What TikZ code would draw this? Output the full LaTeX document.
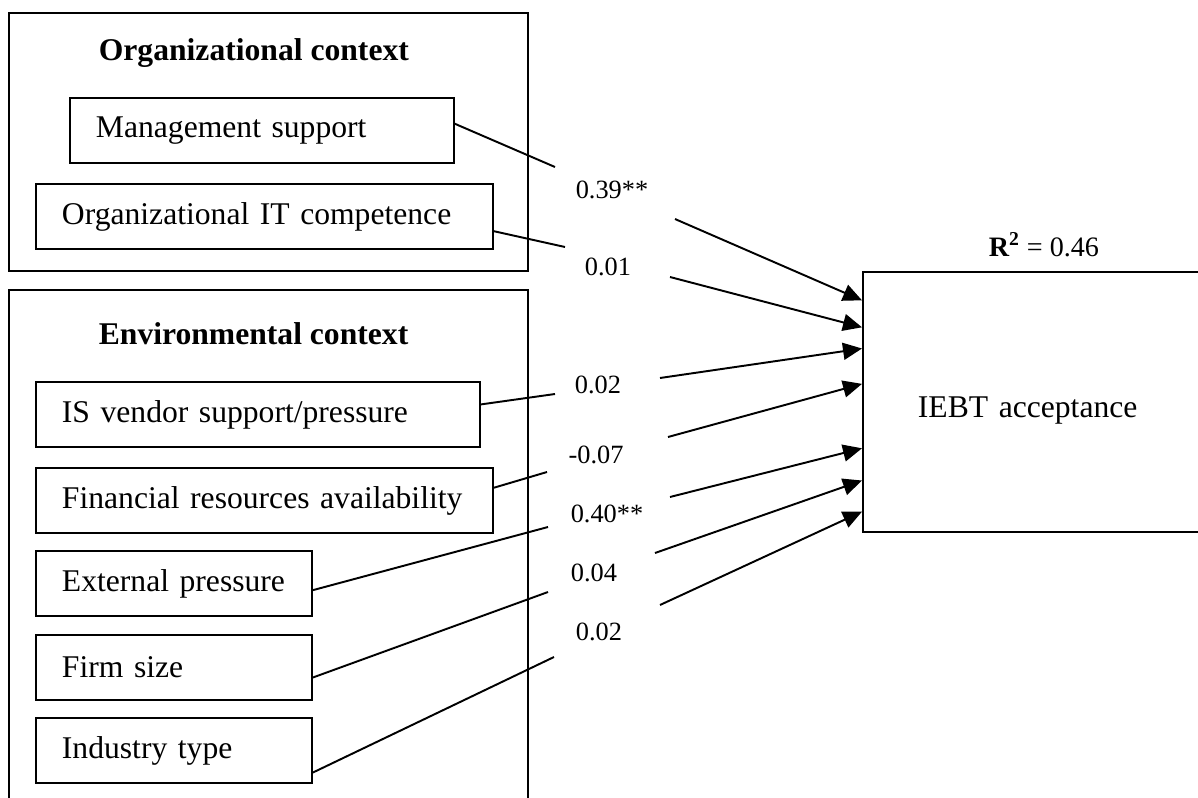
\documentclass[tikz,border=0pt]{standalone}
\usepackage{fontspec}
\setmainfont{Liberation Serif}
\usetikzlibrary{arrows.meta,calc}

\begin{document}
\begin{tikzpicture}[x=0.02cm,y=-0.02cm,line width=1.1pt,
  factor/.style={draw, anchor=north west, inner xsep=0.52cm, inner ysep=0pt,
    minimum height=1.3cm, text width=#1, align=left,
    font=\fontsize{18}{21}\selectfont},
  heading/.style={anchor=base west, font=\fontsize{18}{21}\selectfont\bfseries},
  coef/.style={font=\fontsize{15}{17}\selectfont},
  link/.style={-{Triangle[length=0.38cm,width=0.34cm]}}]

  \useasboundingbox (0,0) rectangle (1198,798);

  \draw (9,13) rectangle (528,271);
  \node[heading] (orgtitle) at (92,60) {Organizational context};
  \node[factor=6.64cm] (ms) at (69,97) {Management support};
  \node[factor=8.10cm] (itc) at (35,183) {Organizational IT competence};

  \draw (9,290) rectangle (528,840);
  \node[heading] (envtitle) at (92,344) {Environmental context};
  \node[factor=7.84cm] (isv) at (35,381) {IS vendor support/pressure};
  \node[factor=8.10cm] (fin) at (35,467) {Financial resources availability};
  \node[factor=4.48cm] (ext) at (35,550) {External pressure};
  \node[factor=4.48cm] (fsz) at (35,634) {Firm size};
  \node[factor=4.48cm] (ind) at (35,717) {Industry type};

  \node[draw, anchor=north west, minimum width=6.9cm, minimum height=5.2cm,
    inner xsep=1.1cm, text width=4.7cm, align=left, text height=0.8cm, text depth=0.16cm,
    font=\fontsize{18}{21}\selectfont] (iebt) at (862,271) {IEBT acceptance};
  \node[font=\fontsize{16}{19}\selectfont] (rsq) at (1044,245)
    {\textbf{R\textsuperscript{2}} = 0.46};

  \node[coef] (c1) at (612,190) {0.39**};
  \node[coef] (c2) at (608,267) {0.01};
  \node[coef] (c3) at (598,385) {0.02};
  \node[coef] (c4) at (596,455) {-0.07};
  \node[coef] (c5) at (607,514) {0.40**};
  \node[coef] (c6) at (594,573) {0.04};
  \node[coef] (c7) at (599,632) {0.02};

  \coordinate (e1) at (555,167); \coordinate (s1) at (675,219);
  \coordinate (e2) at (565,247); \coordinate (s2) at (670,277);
  \coordinate (e3) at (555,394); \coordinate (s3) at (660,378);
  \coordinate (e4) at (547,472); \coordinate (s4) at (668,437);
  \coordinate (e5) at (548,527); \coordinate (s5) at (670,497);
  \coordinate (e6) at (548,592); \coordinate (s6) at (655,553);
  \coordinate (e7) at (554,657); \coordinate (s7) at (660,605);

  \draw ($(ms.north east)!0.4!(ms.south east)$) -- (e1);
  \draw[link] (s1) -- ($(iebt.north west)!0.112!(iebt.south west)$);
  \draw ($(itc.north east)!0.72!(itc.south east)$) -- (e2);
  \draw[link] (s2) -- ($(iebt.north west)!0.215!(iebt.south west)$);
  \draw ($(isv.north east)!0.35!(isv.south east)$) -- (e3);
  \draw[link] (s3) -- ($(iebt.north west)!0.296!(iebt.south west)$);
  \draw ($(fin.north east)!0.31!(fin.south east)$) -- (e4);
  \draw[link] (s4) -- ($(iebt.north west)!0.431!(iebt.south west)$);
  \draw ($(ext.north east)!0.6!(ext.south east)$) -- (e5);
  \draw[link] (s5) -- ($(iebt.north west)!0.677!(iebt.south west)$);
  \draw ($(fsz.north east)!0.65!(fsz.south east)$) -- (e6);
  \draw[link] (s6) -- ($(iebt.north west)!0.8!(iebt.south west)$);
  \draw ($(ind.north east)!0.83!(ind.south east)$) -- (e7);
  \draw[link] (s7) -- ($(iebt.north west)!0.919!(iebt.south west)$);

\end{tikzpicture}
\end{document}
